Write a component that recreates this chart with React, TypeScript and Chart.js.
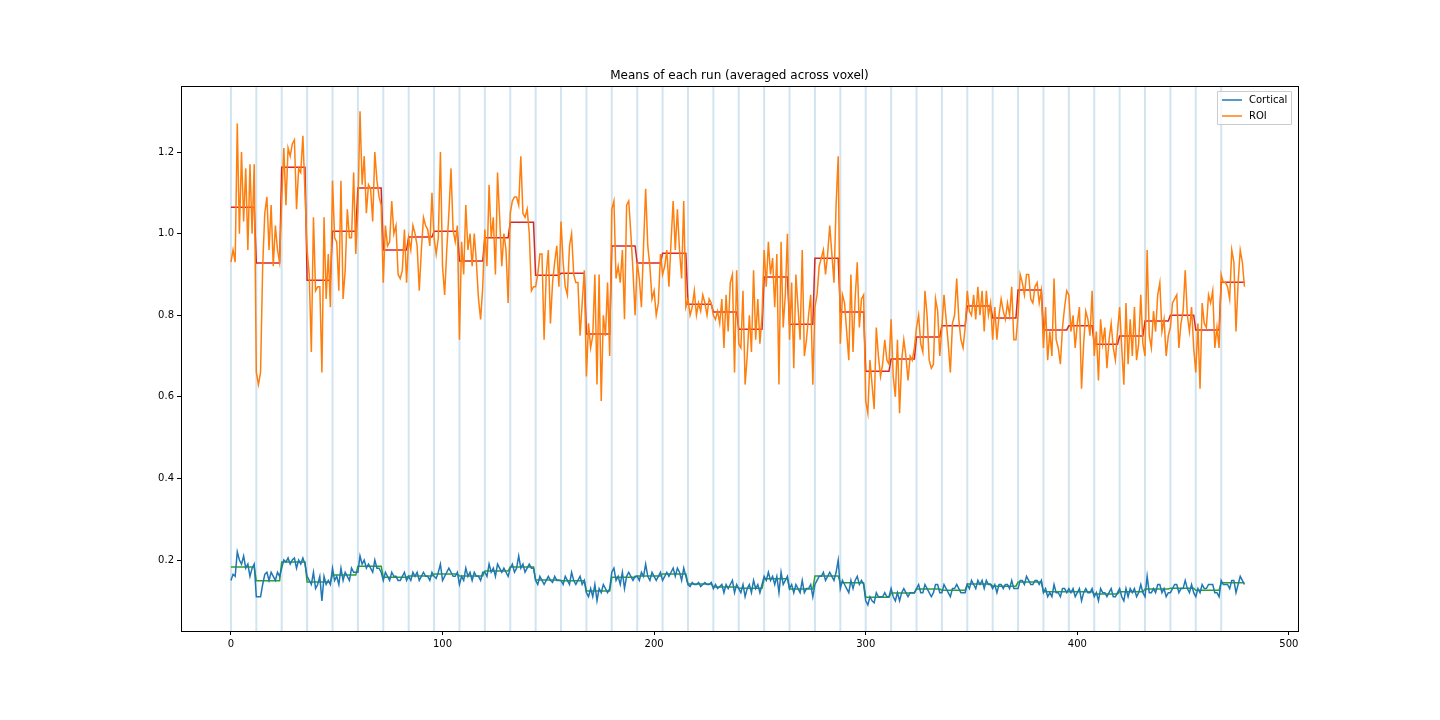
import React, { useEffect, useRef } from "react";
import { Chart, registerables } from "chart.js";

Chart.register(...registerables);

const runLength = 12;
const runStarts = [0, 12, 24, 36, 48, 60, 72, 84, 96, 108, 120, 132, 144, 156, 168, 180, 192, 204, 216, 228, 240, 252, 264, 276, 288, 300, 312, 324, 336, 348, 360, 372, 384, 396, 408, 420, 432, 444, 456, 468];
const xTicks = [0, 100, 200, 300, 400, 500];
const yTicks = [0.2, 0.4, 0.6, 0.8, 1.0, 1.2];

// ROI per-sample means, one row per run
const roiValues = [
  0.93, 0.96, 0.93, 1.27, 1.0, 1.2, 1.03, 1.16, 0.96, 1.17, 1.0, 1.17,
  0.66, 0.63, 0.66, 0.92, 1.05, 1.09, 0.96, 1.07, 0.92, 1.02, 0.96, 0.93,
  1.08, 1.21, 1.07, 1.21, 1.19, 1.22, 1.23, 1.06, 1.16, 1.15, 1.24, 1.10,
  0.96, 0.90, 0.71, 1.04, 0.86, 0.87, 0.87, 0.66, 1.04, 0.84, 0.95, 0.82,
  1.13, 0.99, 0.98, 0.86, 1.13, 0.84, 0.91, 1.06, 0.99, 0.99, 1.15, 0.95,
  1.06, 1.30, 1.12, 1.19, 1.05, 1.12, 1.11, 1.03, 1.20, 1.13, 1.09, 1.07,
  0.88, 1.02, 0.97, 0.98, 1.08, 1.0, 1.02, 0.90, 0.89, 0.91, 1.01, 0.88,
  0.99, 0.96, 1.02, 1.0, 0.97, 0.86, 0.96, 1.04, 1.02, 1.01, 0.97, 1.1,
  0.99, 0.95, 0.99, 1.20, 0.92, 0.85, 0.96, 1.05, 1.16, 1.01, 0.98, 1.02,
  0.74, 0.98, 0.90, 1.07, 0.96, 1.0, 0.92, 1.0, 0.93, 0.84, 0.79, 0.87,
  1.01, 0.92, 1.12, 0.99, 1.04, 0.90, 1.15, 1.04, 0.92, 1.0, 0.96, 0.83,
  1.05, 1.08, 1.09, 1.09, 1.07, 1.19, 1.05, 1.04, 1.06, 1.0, 0.86, 0.87,
  0.87, 0.90, 0.95, 0.95, 0.74, 0.90, 0.96, 0.78, 0.88, 0.93, 0.97, 0.87,
  1.03, 0.93, 0.87, 0.85, 0.97, 1.0, 0.90, 0.88, 0.88, 0.75, 0.83, 0.91,
  0.65, 0.78, 0.72, 0.75, 0.90, 0.63, 0.90, 0.59, 0.80, 0.75, 0.88, 0.70,
  1.06, 1.08, 0.89, 0.92, 0.88, 0.96, 0.79, 1.07, 1.08, 1.0, 0.91, 0.80,
  0.93, 0.89, 0.82, 0.97, 1.11, 0.97, 0.92, 0.84, 0.86, 0.80, 0.83, 0.95,
  0.90, 0.92, 0.96, 0.87, 0.98, 1.08, 0.96, 1.06, 0.96, 0.89, 1.08, 0.82,
  0.84, 0.80, 0.82, 0.86, 0.80, 0.83, 0.81, 0.85, 0.83, 0.80, 0.84, 0.83,
  0.80, 0.79, 0.81, 0.78, 0.84, 0.72, 0.85, 0.76, 0.88, 0.90, 0.66, 0.91,
  0.73, 0.72, 0.86, 0.63, 0.70, 0.80, 0.71, 0.91, 0.74, 0.84, 0.73, 0.80,
  0.96, 0.87, 0.98, 0.90, 0.94, 0.82, 0.95, 0.63, 0.98, 0.77, 0.85, 1.0,
  0.74, 0.88, 0.67, 0.90, 0.82, 0.74, 0.96, 0.70, 0.74, 0.80, 0.85, 0.63,
  0.82, 0.85, 0.92, 0.94, 0.96, 0.90, 0.95, 1.02, 0.95, 0.88, 1.07, 1.19,
  0.73, 0.85, 0.83, 0.76, 0.69, 0.90, 0.71, 0.84, 0.93, 0.77, 0.84, 0.85,
  0.59, 0.56, 0.69, 0.63, 0.57, 0.77, 0.70, 0.65, 0.68, 0.74, 0.69, 0.68,
  0.79, 0.65, 0.60, 0.74, 0.56, 0.69, 0.74, 0.70, 0.64, 0.70, 0.69, 0.72,
  0.77, 0.80, 0.73, 0.71, 0.86, 0.80, 0.69, 0.67, 0.68, 0.84, 0.81, 0.70,
  0.77, 0.85, 0.79, 0.73, 0.66, 0.78, 0.80, 0.89, 0.79, 0.74, 0.72, 0.77,
  0.86, 0.81, 0.80, 0.85, 0.79, 0.87, 0.80, 0.86, 0.76, 0.86, 0.80, 0.83,
  0.74, 0.82, 0.74, 0.80, 0.84, 0.81, 0.79, 0.83, 0.80, 0.87, 0.74, 0.74,
  0.80, 0.90, 0.88, 0.85, 0.90, 0.90, 0.84, 0.83, 0.87, 0.88, 0.83, 0.86,
  0.72, 0.82, 0.69, 0.76, 0.70, 0.89, 0.74, 0.72, 0.68, 0.77, 0.82, 0.86,
  0.85, 0.76, 0.80, 0.72, 0.78, 0.82, 0.62, 0.73, 0.81, 0.79, 0.75, 0.86,
  0.70, 0.76, 0.64, 0.79, 0.73, 0.77, 0.67, 0.74, 0.78, 0.72, 0.69, 0.76,
  0.82, 0.72, 0.63, 0.83, 0.68, 0.79, 0.70, 0.82, 0.69, 0.73, 0.85, 0.73,
  0.70, 0.96, 0.75, 0.72, 0.81, 0.76, 0.85, 0.88, 0.76, 0.79, 0.70, 0.75,
  0.77, 0.83, 0.84, 0.85, 0.72, 0.78, 0.81, 0.91, 0.80, 0.76, 0.82, 0.72,
  0.66, 0.78, 0.62, 0.83, 0.78, 0.77, 0.85, 0.83, 0.86, 0.72, 0.77, 0.72,
  0.90, 0.88, 0.88, 0.87, 0.84, 0.96, 0.93, 0.76, 0.88, 0.96, 0.93, 0.87,
];

const corticalValues = [
  0.15, 0.165, 0.16, 0.22, 0.20, 0.19, 0.21, 0.18, 0.19, 0.16, 0.18, 0.19,
  0.11, 0.11, 0.11, 0.14, 0.165, 0.17, 0.15, 0.17, 0.16, 0.15, 0.17, 0.16,
  0.18, 0.20, 0.195, 0.205, 0.19, 0.20, 0.205, 0.18, 0.20, 0.19, 0.205, 0.19,
  0.16, 0.15, 0.14, 0.17, 0.13, 0.14, 0.16, 0.10, 0.16, 0.14, 0.15, 0.14,
  0.18, 0.15, 0.16, 0.14, 0.18, 0.15, 0.17, 0.16, 0.15, 0.18, 0.17, 0.17,
  0.17, 0.21, 0.19, 0.20, 0.18, 0.19, 0.18, 0.17, 0.20, 0.18, 0.18, 0.17,
  0.15, 0.17, 0.16, 0.15, 0.17, 0.16, 0.16, 0.15, 0.15, 0.16, 0.17, 0.15,
  0.16, 0.15, 0.17, 0.16, 0.17, 0.15, 0.16, 0.17, 0.16, 0.16, 0.15, 0.17,
  0.16, 0.155, 0.17, 0.19, 0.15, 0.16, 0.17, 0.18, 0.17, 0.16, 0.16, 0.17,
  0.14, 0.16, 0.15, 0.18, 0.16, 0.17, 0.15, 0.17, 0.16, 0.16, 0.15, 0.17,
  0.17, 0.16, 0.19, 0.17, 0.18, 0.16, 0.19, 0.18, 0.17, 0.18, 0.17, 0.16,
  0.18, 0.19, 0.17, 0.18, 0.21, 0.18, 0.19, 0.17, 0.18, 0.19, 0.18, 0.18,
  0.15, 0.14, 0.16, 0.15, 0.14, 0.15, 0.16, 0.15, 0.145, 0.16, 0.15, 0.15,
  0.15, 0.14, 0.16, 0.15, 0.14, 0.17, 0.15, 0.14, 0.15, 0.16, 0.14, 0.15,
  0.12, 0.11, 0.13, 0.11, 0.14, 0.10, 0.13, 0.12, 0.14, 0.13, 0.12, 0.13,
  0.17, 0.18, 0.15, 0.16, 0.14, 0.17, 0.13, 0.16, 0.17, 0.16, 0.15, 0.16,
  0.16, 0.15, 0.17, 0.16, 0.19, 0.16, 0.15, 0.17, 0.16, 0.15, 0.16, 0.17,
  0.15, 0.16, 0.17, 0.16, 0.17, 0.18, 0.16, 0.18, 0.17, 0.15, 0.18, 0.16,
  0.14, 0.135, 0.145, 0.14, 0.14, 0.145, 0.135, 0.14, 0.145, 0.14, 0.14, 0.145,
  0.13, 0.14, 0.13, 0.135, 0.14, 0.12, 0.14, 0.13, 0.14, 0.15, 0.12, 0.14,
  0.13, 0.12, 0.14, 0.11, 0.13, 0.14, 0.12, 0.15, 0.13, 0.14, 0.12, 0.14,
  0.16, 0.15, 0.17, 0.15, 0.16, 0.14, 0.16, 0.12, 0.17, 0.14, 0.15, 0.16,
  0.13, 0.14, 0.12, 0.14, 0.13, 0.12, 0.15, 0.12, 0.13, 0.13, 0.14, 0.11,
  0.14, 0.15, 0.16, 0.16, 0.17, 0.15, 0.16, 0.17, 0.16, 0.15, 0.17, 0.20,
  0.13, 0.15, 0.14, 0.13, 0.12, 0.15, 0.13, 0.15, 0.16, 0.14, 0.15, 0.14,
  0.10, 0.09, 0.11, 0.10, 0.095, 0.12, 0.11, 0.11, 0.11, 0.12, 0.11, 0.11,
  0.13, 0.11, 0.10, 0.12, 0.10, 0.12, 0.13, 0.12, 0.11, 0.12, 0.12, 0.12,
  0.13, 0.14, 0.12, 0.12, 0.14, 0.13, 0.12, 0.11, 0.12, 0.14, 0.14, 0.12,
  0.12, 0.14, 0.13, 0.12, 0.11, 0.13, 0.13, 0.14, 0.13, 0.12, 0.12, 0.12,
  0.14, 0.13, 0.15, 0.14, 0.13, 0.15, 0.14, 0.15, 0.13, 0.15, 0.14, 0.14,
  0.13, 0.14, 0.12, 0.14, 0.14, 0.13, 0.14, 0.14, 0.13, 0.15, 0.13, 0.13,
  0.13, 0.15, 0.15, 0.14, 0.16, 0.15, 0.14, 0.14, 0.15, 0.15, 0.14, 0.15,
  0.12, 0.13, 0.11, 0.12, 0.11, 0.14, 0.12, 0.12, 0.11, 0.13, 0.13, 0.12,
  0.13, 0.12, 0.13, 0.11, 0.12, 0.13, 0.10, 0.12, 0.13, 0.12, 0.12, 0.13,
  0.11, 0.12, 0.10, 0.13, 0.12, 0.12, 0.11, 0.12, 0.13, 0.11, 0.11, 0.12,
  0.13, 0.11, 0.10, 0.13, 0.11, 0.13, 0.12, 0.13, 0.11, 0.12, 0.14, 0.12,
  0.11, 0.16, 0.12, 0.12, 0.13, 0.12, 0.14, 0.14, 0.12, 0.13, 0.11, 0.12,
  0.12, 0.13, 0.14, 0.14, 0.12, 0.13, 0.13, 0.15, 0.13, 0.12, 0.14, 0.12,
  0.11, 0.13, 0.12, 0.14, 0.13, 0.13, 0.14, 0.14, 0.14, 0.12, 0.12, 0.11,
  0.15, 0.14, 0.14, 0.14, 0.13, 0.15, 0.15, 0.12, 0.14, 0.16, 0.15, 0.14,
];

// run means
const roiRunMeans = [1.065, 0.928, 1.163, 0.886, 1.006, 1.112, 0.96, 0.992, 1.006, 0.933, 0.99, 1.028, 0.898, 0.903, 0.754, 0.97, 0.928, 0.952, 0.827, 0.808, 0.766, 0.894, 0.778, 0.94, 0.808, 0.663, 0.693, 0.747, 0.774, 0.823, 0.793, 0.862, 0.764, 0.774, 0.729, 0.749, 0.786, 0.8, 0.764, 0.881];
const corticalRunMeans = [0.183, 0.149, 0.195, 0.146, 0.163, 0.185, 0.158, 0.161, 0.166, 0.161, 0.173, 0.183, 0.151, 0.149, 0.124, 0.158, 0.161, 0.166, 0.141, 0.134, 0.131, 0.154, 0.129, 0.161, 0.144, 0.109, 0.119, 0.129, 0.126, 0.141, 0.136, 0.146, 0.122, 0.122, 0.117, 0.122, 0.129, 0.131, 0.126, 0.144];

const toPoints = (vals: number[]) => vals.map((y, x) => ({ x, y }));
const expand = (means: number[]) => means.flatMap((m) => Array(runLength).fill(m));

const FONT = "'DejaVu Sans', sans-serif";

const framePlugin = {
  id: "frame",
  beforeDatasetsDraw(chart: any) {
    const { ctx, chartArea, scales } = chart;
    ctx.save();
    ctx.strokeStyle = "rgba(31,119,180,0.2)";
    ctx.lineWidth = 2;
    runStarts.forEach((s) => {
      const x = scales.x.getPixelForValue(s);
      ctx.beginPath();
      ctx.moveTo(x, chartArea.top);
      ctx.lineTo(x, chartArea.bottom);
      ctx.stroke();
    });
    ctx.restore();
  },
  afterDraw(chart: any) {
    const { ctx, chartArea } = chart;
    ctx.save();
    ctx.strokeStyle = "#000";
    ctx.lineWidth = 1;
    ctx.strokeRect(chartArea.left + 0.5, chartArea.top + 0.5, chartArea.right - chartArea.left, chartArea.bottom - chartArea.top);
    ctx.fillStyle = "#000";
    ctx.font = `12px ${FONT}`;
    ctx.textAlign = "center";
    ctx.textBaseline = "alphabetic";
    ctx.fillText("Means of each run (averaged across voxel)", (chartArea.left + chartArea.right) / 2, chartArea.top - 7);
    // legend
    const lx = chartArea.right - 81, ly = chartArea.top + 5;
    ctx.fillStyle = "rgba(255,255,255,0.8)";
    ctx.strokeStyle = "#ccc";
    ctx.beginPath();
    ctx.rect(lx + 0.5, ly + 0.5, 74, 33);
    ctx.fill();
    ctx.stroke();
    ctx.font = `10px ${FONT}`;
    ctx.textAlign = "left";
    ctx.textBaseline = "middle";
    [["Cortical", "#1f77b4"], ["ROI", "#ff7f0e"]].forEach(([label, color], i) => {
      const y = ly + 9 + i * 16;
      ctx.strokeStyle = color;
      ctx.lineWidth = 1.5;
      ctx.beginPath();
      ctx.moveTo(lx + 5, y);
      ctx.lineTo(lx + 25, y);
      ctx.stroke();
      ctx.fillStyle = "#000";
      ctx.fillText(label, lx + 32, y);
    });
    ctx.restore();
  },
};

const App: React.FC = () => {
  const canvasRef = useRef<HTMLCanvasElement | null>(null);

  useEffect(() => {
    document.body.style.margin = "0";
    if (!canvasRef.current) return;
    const line = (data: any, color: string) => ({
      data,
      borderColor: color,
      borderWidth: 1.5,
      pointRadius: 0,
      fill: false,
      tension: 0,
    });
    const chart = new Chart(canvasRef.current, {
      type: "line",
      data: {
        datasets: [
          line(toPoints(corticalValues), "#1f77b4"),
          line(toPoints(roiValues), "#ff7f0e"),
          line(toPoints(expand(corticalRunMeans)), "#2ca02c"),
          line(toPoints(expand(roiRunMeans)), "#d62728"),
        ],
      },
      options: {
        animation: false,
        responsive: false,
        devicePixelRatio: 1,
        layout: { padding: { top: 86, right: 142, left: 0, bottom: 0 } },
        plugins: { legend: { display: false }, title: { display: false }, tooltip: { enabled: false } },
        scales: {
          x: {
            type: "linear",
            min: -23.6,
            max: 504.3,
            grid: { drawOnChartArea: false, drawTicks: true, tickLength: 4, color: "#000" },
            border: { color: "#000" },
            ticks: { color: "#000", font: { family: FONT, size: 10 }, padding: 3, maxRotation: 0 },
            afterBuildTicks: (s: any) => { s.ticks = xTicks.map((v) => ({ value: v })); },
            afterFit: (s: any) => { s.height = 89; },
          },
          y: {
            type: "linear",
            min: 0.026,
            max: 1.362,
            grid: { drawOnChartArea: false, drawTicks: true, tickLength: 4, color: "#000" },
            border: { color: "#000" },
            ticks: { color: "#000", font: { family: FONT, size: 10 }, padding: 3, callback: (v: any) => Number(v).toFixed(1) },
            afterBuildTicks: (s: any) => { s.ticks = yTicks.map((v) => ({ value: v })); },
            afterFit: (s: any) => { s.width = 181; },
          },
        },
      },
      plugins: [framePlugin],
    });
    return () => chart.destroy();
  }, []);

  return <canvas ref={canvasRef} width={1440} height={720} style={{ display: "block", width: 1440, height: 720 }} />;
};

export default App;
